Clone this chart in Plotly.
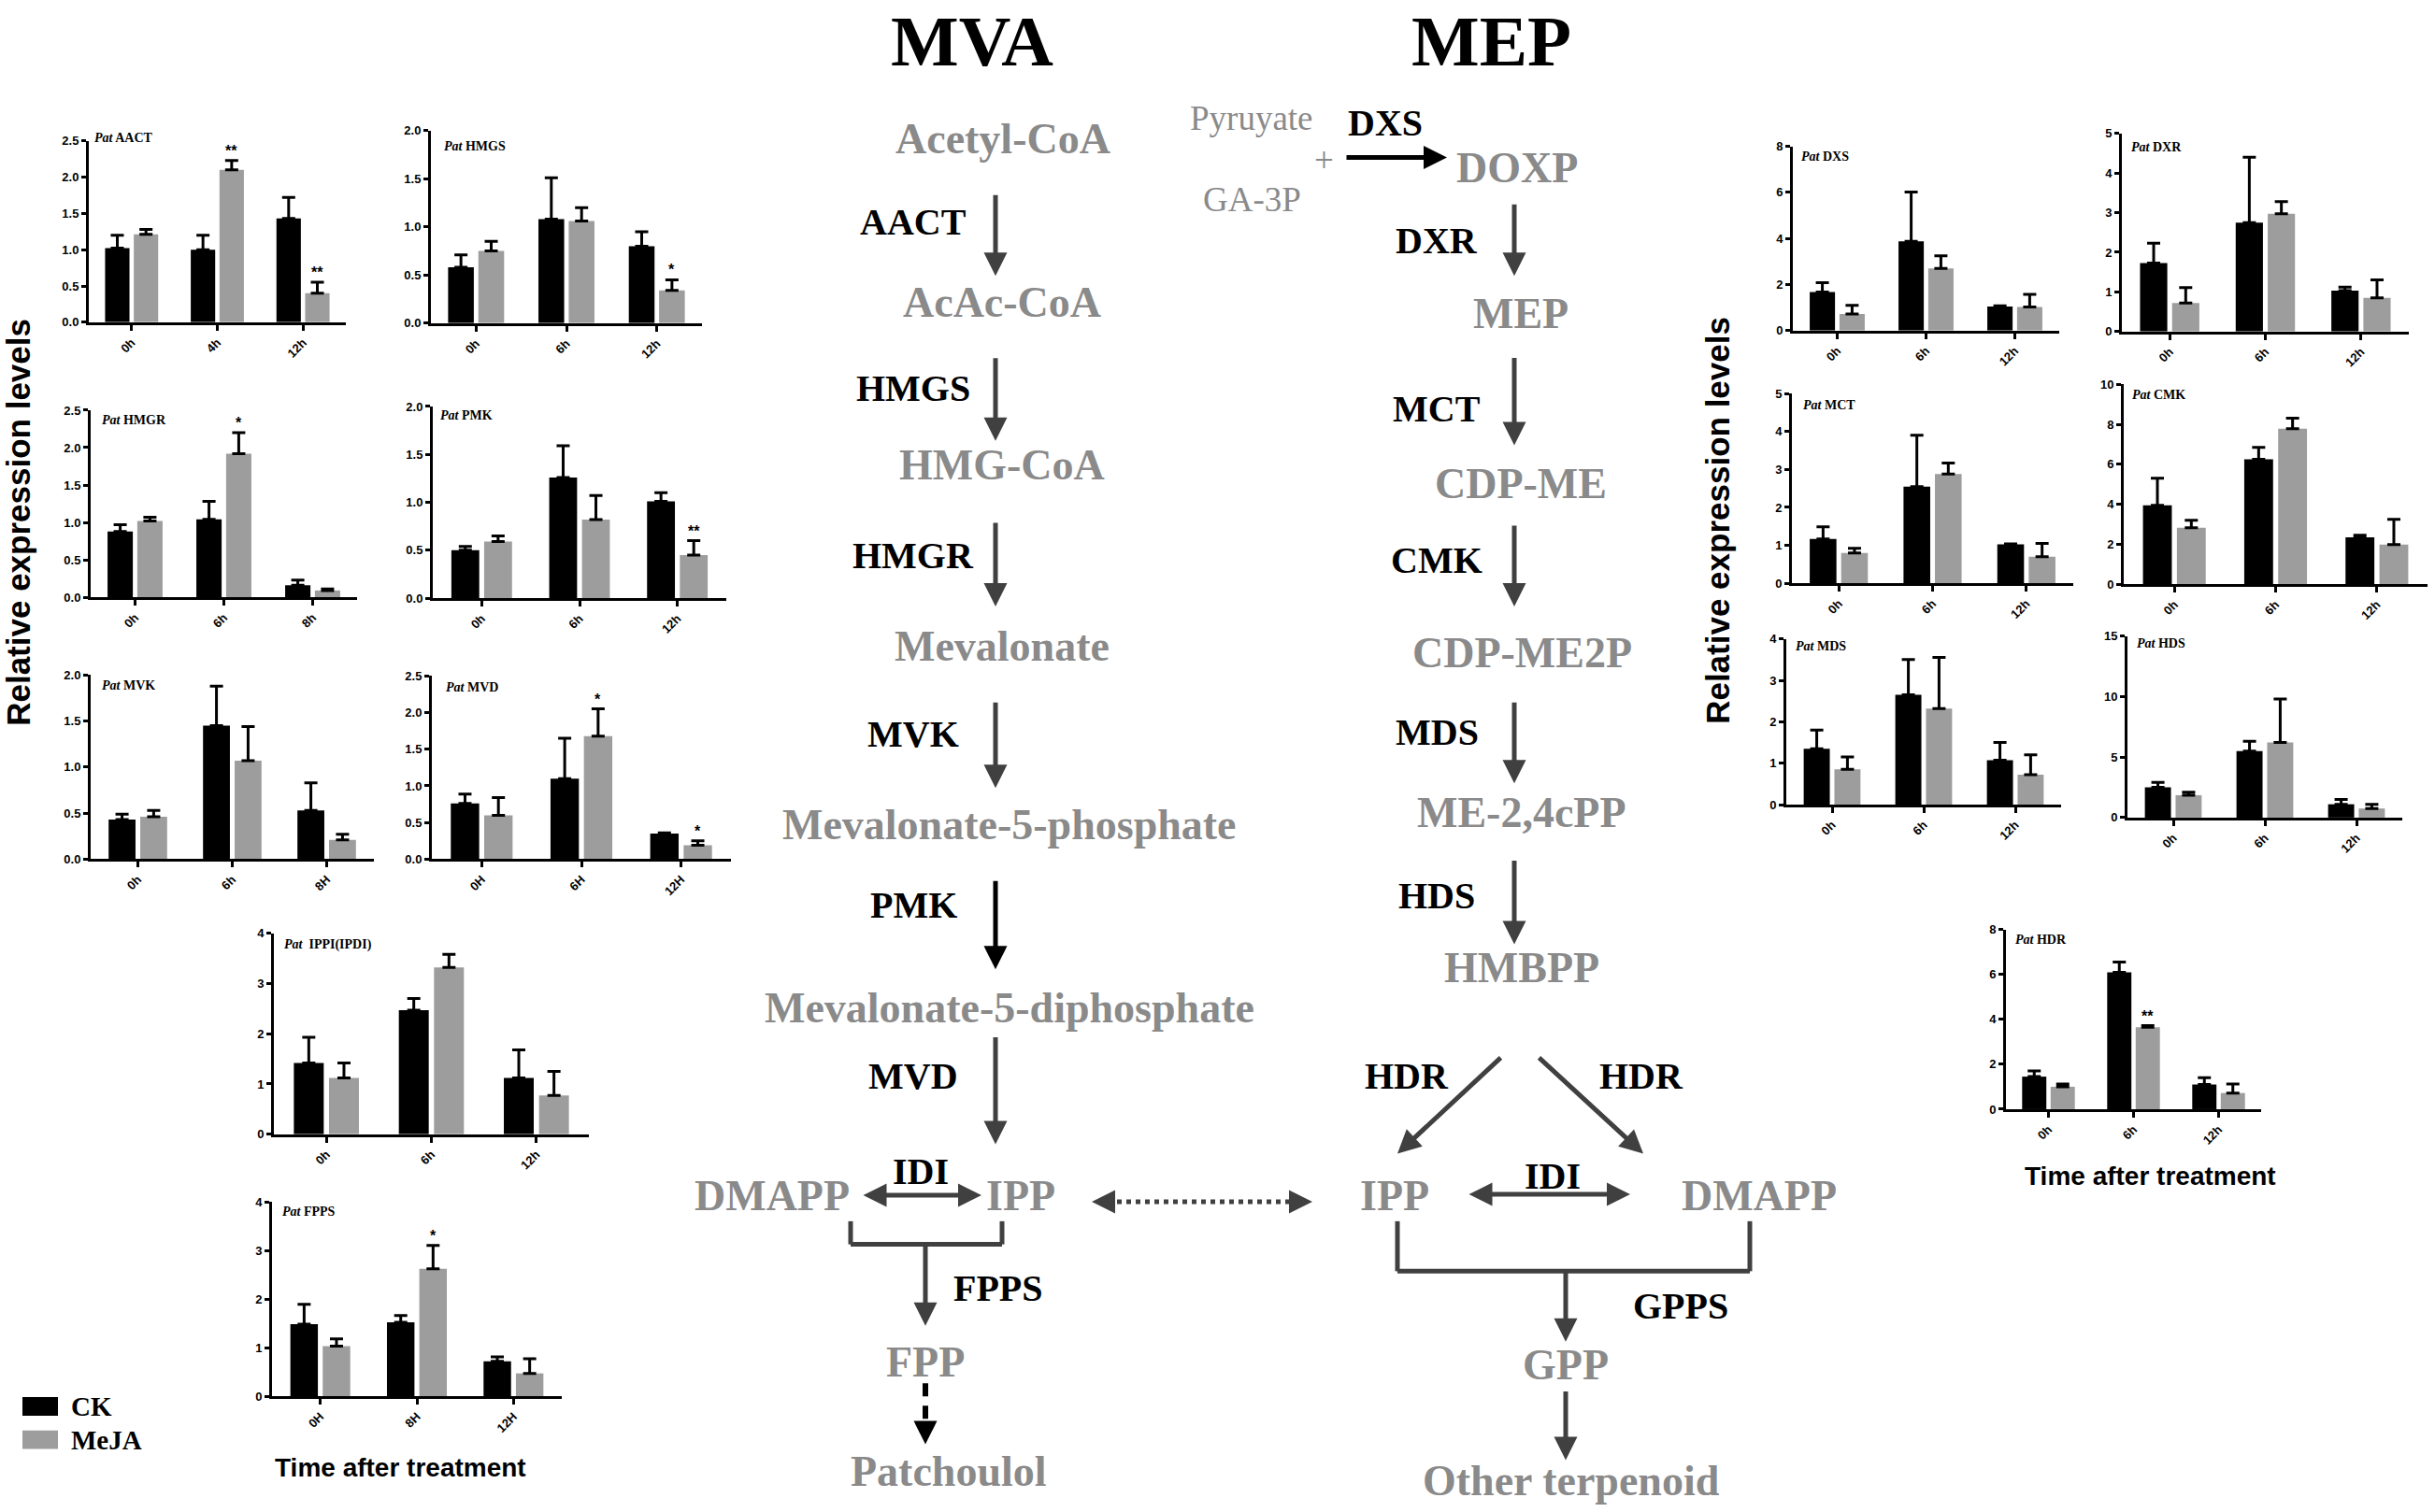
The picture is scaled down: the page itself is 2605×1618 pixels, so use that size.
import plotly.graph_objects as go

W, H = 2605, 1618

# ---------------- data ----------------
aact_time = ["0h", "4h", "12h"]
aact_ck = [1.02, 1.00, 1.43]
aact_ck_sd = [0.18, 0.20, 0.29]
aact_meja = [1.21, 2.10, 0.40]
aact_meja_sd = [0.07, 0.13, 0.15]
aact_sig = ["", "**", "**"]

hmgs_time = ["0h", "6h", "12h"]
hmgs_ck = [0.58, 1.08, 0.80]
hmgs_ck_sd = [0.13, 0.43, 0.15]
hmgs_meja = [0.75, 1.06, 0.34]
hmgs_meja_sd = [0.10, 0.14, 0.11]
hmgs_sig = ["", "", "*"]

hmgr_time = ["0h", "6h", "8h"]
hmgr_ck = [0.88, 1.04, 0.16]
hmgr_ck_sd = [0.09, 0.24, 0.07]
hmgr_meja = [1.02, 1.92, 0.09]
hmgr_meja_sd = [0.05, 0.28, 0.02]
hmgr_sig = ["", "*", ""]

pmk_time = ["0h", "6h", "12h"]
pmk_ck = [0.50, 1.26, 1.01]
pmk_ck_sd = [0.04, 0.33, 0.09]
pmk_meja = [0.59, 0.82, 0.45]
pmk_meja_sd = [0.06, 0.25, 0.15]
pmk_sig = ["", "", "**"]

mvk_time = ["0h", "6h", "8H"]
mvk_ck = [0.43, 1.45, 0.53]
mvk_ck_sd = [0.06, 0.43, 0.30]
mvk_meja = [0.46, 1.07, 0.21]
mvk_meja_sd = [0.07, 0.37, 0.06]
mvk_sig = ["", "", ""]

mvd_time = ["0H", "6H", "12H"]
mvd_ck = [0.76, 1.10, 0.35]
mvd_ck_sd = [0.13, 0.55, 0.01]
mvd_meja = [0.60, 1.68, 0.19]
mvd_meja_sd = [0.24, 0.37, 0.06]
mvd_sig = ["", "*", "*"]

ippi_time = ["0h", "6h", "12h"]
ippi_ck = [1.42, 2.47, 1.12]
ippi_ck_sd = [0.51, 0.23, 0.56]
ippi_meja = [1.12, 3.32, 0.77]
ippi_meja_sd = [0.30, 0.26, 0.48]
ippi_sig = ["", "", ""]

fpps_time = ["0H", "8H", "12H"]
fpps_ck = [1.48, 1.52, 0.72]
fpps_ck_sd = [0.41, 0.14, 0.09]
fpps_meja = [1.03, 2.62, 0.47]
fpps_meja_sd = [0.15, 0.48, 0.30]
fpps_sig = ["", "*", ""]

dxs_time = ["0h", "6h", "12h"]
dxs_ck = [1.67, 3.88, 1.05]
dxs_ck_sd = [0.41, 2.14, 0.03]
dxs_meja = [0.72, 2.70, 1.02]
dxs_meja_sd = [0.38, 0.55, 0.55]
dxs_sig = ["", "", ""]

dxr_time = ["0h", "6h", "12h"]
dxr_ck = [1.73, 2.75, 1.03]
dxr_ck_sd = [0.50, 1.65, 0.09]
dxr_meja = [0.72, 2.97, 0.85]
dxr_meja_sd = [0.39, 0.31, 0.45]
dxr_sig = ["", "", ""]

mct_time = ["0h", "6h", "12h"]
mct_ck = [1.17, 2.55, 1.03]
mct_ck_sd = [0.32, 1.35, 0.01]
mct_meja = [0.80, 2.88, 0.70]
mct_meja_sd = [0.12, 0.29, 0.35]
mct_sig = ["", "", ""]

cmk_time = ["0h", "6h", "12h"]
cmk_ck = [3.95, 6.25, 2.35]
cmk_ck_sd = [1.35, 0.60, 0.10]
cmk_meja = [2.82, 7.78, 1.98]
cmk_meja_sd = [0.38, 0.52, 1.27]
cmk_sig = ["", "", ""]

mds_time = ["0h", "6h", "12h"]
mds_ck = [1.35, 2.65, 1.07]
mds_ck_sd = [0.45, 0.85, 0.43]
mds_meja = [0.85, 2.32, 0.72]
mds_meja_sd = [0.30, 1.23, 0.48]
mds_sig = ["", "", ""]

hds_time = ["0h", "6h", "12h"]
hds_ck = [2.50, 5.50, 1.10]
hds_ck_sd = [0.40, 0.80, 0.40]
hds_meja = [1.85, 6.20, 0.75]
hds_meja_sd = [0.25, 3.60, 0.35]
hds_sig = ["", "", ""]

hdr_time = ["0h", "6h", "12h"]
hdr_ck = [1.45, 6.10, 1.10]
hdr_ck_sd = [0.25, 0.45, 0.30]
hdr_meja = [1.00, 3.65, 0.72]
hdr_meja_sd = [0.12, 0.07, 0.40]
hdr_sig = ["", "**", ""]

# ---------------- chart definitions ----------------
charts = [
    ("AACT", aact_time, aact_ck, aact_ck_sd, aact_meja, aact_meja_sd, aact_sig, 2.5, 0.5),
    ("HMGS", hmgs_time, hmgs_ck, hmgs_ck_sd, hmgs_meja, hmgs_meja_sd, hmgs_sig, 2.0, 0.5),
    ("HMGR", hmgr_time, hmgr_ck, hmgr_ck_sd, hmgr_meja, hmgr_meja_sd, hmgr_sig, 2.5, 0.5),
    ("PMK", pmk_time, pmk_ck, pmk_ck_sd, pmk_meja, pmk_meja_sd, pmk_sig, 2.0, 0.5),
    ("MVK", mvk_time, mvk_ck, mvk_ck_sd, mvk_meja, mvk_meja_sd, mvk_sig, 2.0, 0.5),
    ("MVD", mvd_time, mvd_ck, mvd_ck_sd, mvd_meja, mvd_meja_sd, mvd_sig, 2.5, 0.5),
    ("IPPI(IPDI)", ippi_time, ippi_ck, ippi_ck_sd, ippi_meja, ippi_meja_sd, ippi_sig, 4, 1),
    ("FPPS", fpps_time, fpps_ck, fpps_ck_sd, fpps_meja, fpps_meja_sd, fpps_sig, 4, 1),
    ("DXS", dxs_time, dxs_ck, dxs_ck_sd, dxs_meja, dxs_meja_sd, dxs_sig, 8, 2),
    ("DXR", dxr_time, dxr_ck, dxr_ck_sd, dxr_meja, dxr_meja_sd, dxr_sig, 5, 1),
    ("MCT", mct_time, mct_ck, mct_ck_sd, mct_meja, mct_meja_sd, mct_sig, 5, 1),
    ("CMK", cmk_time, cmk_ck, cmk_ck_sd, cmk_meja, cmk_meja_sd, cmk_sig, 10, 2),
    ("MDS", mds_time, mds_ck, mds_ck_sd, mds_meja, mds_meja_sd, mds_sig, 4, 1),
    ("HDS", hds_time, hds_ck, hds_ck_sd, hds_meja, hds_meja_sd, hds_sig, 15, 5),
    ("HDR", hdr_time, hdr_ck, hdr_ck_sd, hdr_meja, hdr_meja_sd, hdr_sig, 8, 2),
]

# pixel boxes: x0 (y-axis), x1 (end of x-axis), y of top tick, y of zero, title dx, title dy
boxes = [
    (95, 370, 145, 341, 4, -3),
    (461, 751, 134, 342, 12, 17),
    (97, 382, 436, 638, 10, 11),
    (463, 777, 432, 639, 6, 10),
    (97, 400, 722, 921, 10, 11),
    (462, 782, 723, 921, 13, 12),
    (293, 630, 1001, 1218, 9, 12),
    (291, 601, 1291, 1501, 9, 11),
    (1918, 2203, 151, 350, 7, 11),
    (2270, 2577, 137, 351, 8, 15),
    (1917, 2218, 418, 623, 10, 12),
    (2272, 2597, 408, 624, 7, 11),
    (1911, 2205, 683, 862, 8, 8),
    (2276, 2570, 680, 876, 8, 8),
    (2146, 2419, 997, 1191, 8, 11),
]

CK_COLOR = "#000000"
MEJA_COLOR = "#9d9d9d"
SANS = "Liberation Sans"
SERIF = "Liberation Serif"
DARK = "#404040"
GRAY_TXT = "#8a8a8a"

fig = go.Figure()
annotations = []
shapes = []
layout_axes = {}

for i, (gene, t, ck, cksd, mj, mjsd, sig, ymax, dt) in enumerate(charts, start=1):
    x0, x1, yt, yb, tdx, tdy = boxes[i - 1]
    xa = "x" if i == 1 else f"x{i}"
    ya = "y" if i == 1 else f"y{i}"
    eb = dict(type="data", symmetric=False, arrayminus=[0] * len(t),
              color="black", thickness=3, width=7)
    fig.add_trace(go.Bar(x=t, y=ck, name="CK", marker=dict(color=CK_COLOR, line=dict(width=0)),
                         error_y=dict(eb, array=cksd), xaxis=xa, yaxis=ya, showlegend=False))
    fig.add_trace(go.Bar(x=t, y=mj, name="MeJA", marker=dict(color=MEJA_COLOR, line=dict(width=0)),
                         error_y=dict(eb, array=mjsd), xaxis=xa, yaxis=ya, showlegend=False))
    fmt = ".1f" if dt < 1 else "d"
    axfont = dict(family=SANS, size=13, color="black", weight="bold")
    layout_axes["xaxis" if i == 1 else f"xaxis{i}"] = dict(
        domain=[x0 / W, x1 / W], anchor=ya, type="category", range=[-0.5, len(t) - 0.5],
        showline=True, linecolor="black", linewidth=3, ticks="outside", ticklen=6,
        tickwidth=3, tickcolor="black", tickangle=-45, tickfont=axfont,
        showgrid=False, zeroline=False, fixedrange=True)
    layout_axes["yaxis" if i == 1 else f"yaxis{i}"] = dict(
        domain=[1 - yb / H, 1 - yt / H], anchor=xa, range=[0, ymax], dtick=dt, tick0=0,
        tickformat=fmt, showline=True, linecolor="black", linewidth=3, ticks="outside",
        ticklen=5, tickwidth=3, tickcolor="black", tickfont=axfont,
        showgrid=False, zeroline=False, fixedrange=True)
    # gene title
    annotations.append(dict(
        text=f"<i>Pat</i> {gene}" if gene != "IPPI(IPDI)" else f"<i>Pat</i>  {gene}",
        xref="paper", yref="paper", x=(x0 + tdx) / W, y=1 - (yt + tdy) / H,
        xanchor="left", yanchor="middle", showarrow=False,
        font=dict(family=SERIF, size=14, color="black", weight="bold")))
    # significance marks
    for j, s in enumerate(sig):
        if s:
            annotations.append(dict(
                text=s, xref=xa, yref=ya, x=j + 0.1675, y=mj[j] + mjsd[j],
                xanchor="center", yanchor="bottom", yshift=0, showarrow=False,
                font=dict(family=SANS, size=16, color="black", weight="bold")))

# ---------------- helpers for the pathway diagram ----------------
def txt(s, x, y, size, color, bold=True, family=SERIF):
    annotations.append(dict(text=s, xref="paper", yref="paper", x=x / W, y=1 - y / H,
                            xanchor="center", yanchor="middle", showarrow=False,
                            font=dict(family=family, size=size, color=color,
                                      weight="bold" if bold else "normal")))


def arrow(tail, head, color=DARK, width=5, both=False, size=1.0):
    d = dict(text="", xref="paper", yref="paper", x=head[0] / W, y=1 - head[1] / H,
             axref="pixel", ayref="pixel", ax=tail[0] - head[0], ay=tail[1] - head[1],
             showarrow=True, arrowhead=2, arrowsize=size, arrowwidth=width,
             arrowcolor=color, standoff=0, startstandoff=0)
    if both:
        d.update(arrowside="end+start", startarrowhead=2, startarrowsize=size)
    annotations.append(d)


def line(p0, p1, color=DARK, width=5, dash="solid"):
    shapes.append(dict(type="line", xref="paper", yref="paper",
                       x0=p0[0] / W, y0=1 - p0[1] / H, x1=p1[0] / W, y1=1 - p1[1] / H,
                       line=dict(color=color, width=width, dash=dash)))


# titles
txt("MVA", 1040, 37, 77, "black")
txt("MEP", 1595, 37, 77, "black")

# MVA pathway metabolites
mva_metabolites = [("Acetyl-CoA", 1073, 143), ("AcAc-CoA", 1072, 319), ("HMG-CoA", 1072, 495),
                   ("Mevalonate", 1072, 691), ("Mevalonate-5-phosphate", 1080, 884),
                   ("Mevalonate-5-diphosphate", 1080, 1082), ("DMAPP", 826, 1284),
                   ("IPP", 1092, 1284), ("FPP", 990, 1464), ("Patchoulol", 1015, 1582)]
for s, x, y in mva_metabolites:
    txt(s, x, y, 46, GRAY_TXT)

mep_metabolites = [("DOXP", 1623, 174), ("MEP", 1627, 332), ("CDP-ME", 1627, 515),
                   ("CDP-ME2P", 1628, 698), ("ME-2,4cPP", 1628, 871), ("HMBPP", 1628, 1038),
                   ("IPP", 1492, 1284), ("DMAPP", 1882, 1284), ("GPP", 1675, 1467),
                   ("Other terpenoid", 1681, 1592)]
for s, x, y in mep_metabolites:
    txt(s, x, y, 46, GRAY_TXT)

txt("Pyruyate", 1339, 121, 37, GRAY_TXT, bold=False)
txt("GA-3P", 1339, 208, 37, GRAY_TXT, bold=False)
txt("+", 1416, 166, 37, GRAY_TXT, bold=False)

enzymes = [("AACT", 977, 233), ("HMGS", 977, 412), ("HMGR", 977, 593), ("MVK", 977, 786),
           ("PMK", 977, 970), ("MVD", 977, 1155), ("IDI", 985, 1258), ("FPPS", 1068, 1384),
           ("DXS", 1482, 126), ("DXR", 1537, 253), ("MCT", 1537, 435), ("CMK", 1537, 598),
           ("MDS", 1537, 784), ("HDS", 1537, 960), ("HDR", 1505, 1155), ("HDR", 1756, 1155),
           ("IDI", 1661, 1263), ("GPPS", 1798, 1404)]
for s, x, y in enzymes:
    txt(s, x, y, 40, "black")

# MVA arrows
for (y0, y1) in [(203, 291), (379, 469), (557, 648), (751, 844), (1113, 1229)]:
    arrow((1065, y0), (1065, y1))
arrow((1065, 944), (1065, 1040), color="black")
# MEP arrows
for (y0, y1) in [(213, 291), (379, 474), (560, 648), (751, 839), (922, 1013)]:
    arrow((1620, y0), (1620, y1))
arrow((1439, 163), (1548, 163), color="black")
arrow((1607, 1135), (1495, 1239))
arrow((1645, 1135), (1758, 1239))
# IDI double arrows
arrow((922, 1284), (1050, 1284), both=True)
arrow((1570, 1283), (1744, 1283), both=True)
# dotted double arrow
line((1185, 1291), (1388, 1291), width=5, dash="dot")
arrow((1182, 1291), (1168, 1291))
arrow((1390, 1291), (1404, 1291))
# MVA bracket
line((910, 1312), (910, 1337))
line((910, 1337), (1072, 1337))
line((1072, 1312), (1072, 1337))
arrow((990, 1337), (990, 1425))
# dashed to patchoulol
line((990, 1487), (990, 1540), color="black", width=6, dash="14px,10px")
arrow((990, 1538), (990, 1553), color="black")
# MEP bracket
line((1495, 1312), (1495, 1366))
line((1495, 1366), (1872, 1366))
line((1872, 1312), (1872, 1366))
arrow((1675, 1366), (1675, 1442))
arrow((1675, 1495), (1675, 1570))

# ---------------- axis titles / legend ----------------
annotations.append(dict(text="Relative expression levels", xref="paper", yref="paper",
                        x=20 / W, y=1 - 557 / H, textangle=-90, showarrow=False,
                        xanchor="center", yanchor="middle",
                        font=dict(family=SANS, size=35, color="black", weight="bold")))
annotations.append(dict(text="Relative expression levels", xref="paper", yref="paper",
                        x=1838 / W, y=1 - 555 / H, textangle=-90, showarrow=False,
                        xanchor="center", yanchor="middle",
                        font=dict(family=SANS, size=35, color="black", weight="bold")))
txt("Time after treatment", 428, 1578, 28, "black", family=SANS)
txt("Time after treatment", 2300, 1263, 28, "black", family=SANS)

legend_items = [("CK", CK_COLOR, 1512), ("MeJA", MEJA_COLOR, 1548)]
for name, col, yc in legend_items:
    shapes.append(dict(type="rect", xref="paper", yref="paper", x0=24 / W, x1=62 / W,
                       y0=1 - (yc + 10) / H, y1=1 - (yc - 10) / H,
                       fillcolor=col, line=dict(width=0)))
    annotations.append(dict(text=name, xref="paper", yref="paper", x=74 / W, y=1 - yc / H,
                            xanchor="left", yanchor="middle", showarrow=False,
                            font=dict(family=SERIF, size=29, color="black", weight="bold")))

fig.update_layout(
    width=W, height=H, margin=dict(l=0, r=0, t=0, b=0),
    paper_bgcolor="white", plot_bgcolor="white",
    barmode="group", bargap=0.33, bargroupgap=0.15,
    annotations=annotations, shapes=shapes, showlegend=False,
    **layout_axes)

fig.write_html("out.html", config={"displayModeBar": False},
               post_script="document.body.style.margin='0px';")
